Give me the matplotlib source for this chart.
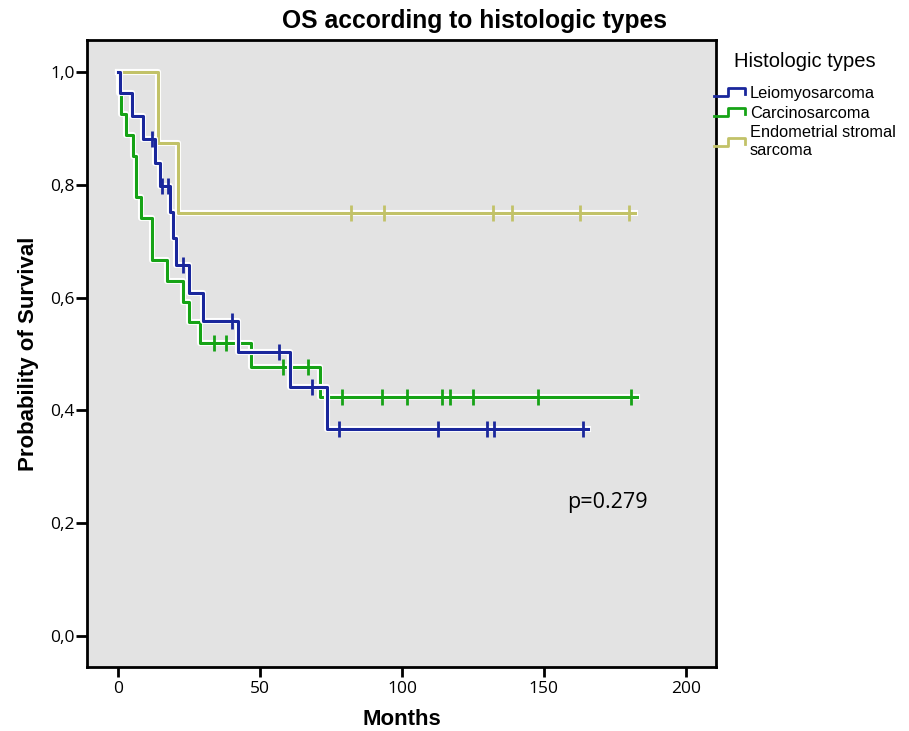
import numpy as np
import matplotlib
matplotlib.use("Agg")
import matplotlib.pyplot as plt
import matplotlib.patheffects as pe
from matplotlib.lines import Line2D
from matplotlib.legend_handler import HandlerBase

plt.rcParams['font.family'] = ['Open Sans', 'DejaVu Sans']

# Kaplan-Meier steps (months, survival)
leio_t = [0, 0.7, 4.9, 8.8, 13.0, 14.8, 18.3, 19.4, 20.4, 25.0, 29.9, 42.3, 60.6, 73.6, 165.5]
leio_s = [1.0, 0.963, 0.922, 0.881, 0.839, 0.798, 0.752, 0.706, 0.658, 0.608, 0.558, 0.504, 0.441, 0.367, 0.367]
leio_cens = [12.0, 15.5, 17.6, 22.9, 40.1, 56.7, 68.3, 77.8, 112.7, 129.9, 132.4, 163.7]

carc_t = [0, 0.3, 1.1, 2.8, 5.3, 6.2, 8.0, 12.0, 17.3, 22.9, 25.0, 28.9, 46.8, 71.1, 182.7]
carc_s = [1.0, 0.963, 0.926, 0.889, 0.852, 0.778, 0.741, 0.667, 0.630, 0.593, 0.556, 0.519, 0.477, 0.424, 0.424]
carc_cens = [33.8, 38.0, 58.1, 66.9, 78.9, 93.0, 101.8, 114.1, 116.9, 125.0, 147.9, 180.6]

endo_t = [0, 14.1, 21.1, 182.0]
endo_s = [1.0, 0.875, 0.75, 0.75]
endo_cens = [82.0, 93.7, 132.0, 138.7, 162.7, 180.0]

labels = ['Leiomyosarcoma', 'Carcinosarcoma', 'Endometrial stromal\nsarcoma']
colors = ['#1a279c', '#16a316', '#c2c268']


def surv_at(times, surv, t):
    i = np.searchsorted(times, t, side='right') - 1
    return np.array(surv)[i]


class StepHandler(HandlerBase):
    def create_artists(self, legend, orig_handle, xdescent, ydescent,
                       width, height, fontsize, trans):
        xs = -xdescent + width * np.array([0, 0.45, 0.45, 1.0, 1.0])
        ys = -ydescent + height * np.array([0.15, 0.15, 0.85, 0.85, 0.3])
        ln = Line2D(xs, ys, color=orig_handle.get_color(), lw=2)
        ln.set_transform(trans)
        return [ln]


fig = plt.figure(figsize=(9.09, 7.31), dpi=100)
ax = fig.add_axes([87 / 909, 1 - 667 / 731, (716 - 87) / 909, (667 - 40) / 731])
ax.set_facecolor('#e3e3e3')

halo = [pe.Stroke(linewidth=4.4, foreground='white'), pe.Normal()]

series = [(endo_t, endo_s, endo_cens, colors[2]),
          (carc_t, carc_s, carc_cens, colors[1]),
          (leio_t, leio_s, leio_cens, colors[0])]
for k, (t, s, cens, c) in enumerate(series):
    ax.step(t, s, where='post', color=c, lw=2.2, path_effects=halo, zorder=2 + k)
    ax.plot(cens, surv_at(t, s, cens), ls='none', marker='|', ms=12, mew=2,
            color=c, zorder=2.5 + k)

ax.set_xlim(-10.9, 210.6)
ax.set_ylim(-0.055, 1.057)
ax.set_xticks([0, 50, 100, 150, 200])
yt = [0.0, 0.2, 0.4, 0.6, 0.8, 1.0]
ax.set_yticks(yt)
ax.set_yticklabels([f"{v:.1f}".replace('.', ',') for v in yt])
ax.tick_params(axis='y', length=8, width=2, labelsize=12.5, pad=1)
ax.tick_params(axis='x', length=7, width=2, labelsize=12.5, pad=3)
for sp in ax.spines.values():
    sp.set_linewidth(2)

ax.set_xlabel('Months', family='Liberation Sans', fontweight='bold', fontsize=16, labelpad=9)
ax.set_ylabel('Probability of Survival', family='Liberation Sans', fontweight='bold',
              fontsize=16, labelpad=8)

ax.text(158, 0.236, 'p=0.279', fontsize=15.5, va='center')

fig.text(474 / 909, 1 - 21 / 731, 'OS according to histologic types', ha='center', va='center',
         fontsize=17.7, fontweight='bold', family='Liberation Sans')

handles = [Line2D([], [], color=c) for c in colors]
leg = fig.legend(handles, labels, loc='upper left', bbox_to_anchor=(714 / 909, 1 - 52 / 731),
                 frameon=False, title='Histologic types', handler_map={Line2D: StepHandler()},
                 handlelength=1.9, handletextpad=0.3, labelspacing=0.3, borderaxespad=0,
                 borderpad=0, prop={'family': 'Liberation Sans', 'size': 11.8},
                 title_fontproperties={'family': 'Liberation Sans', 'size': 14.5})
# more room between legend title and first entry
leg._legend_box.sep = 10.5

fig.savefig('out.png', dpi=100, facecolor='white')
